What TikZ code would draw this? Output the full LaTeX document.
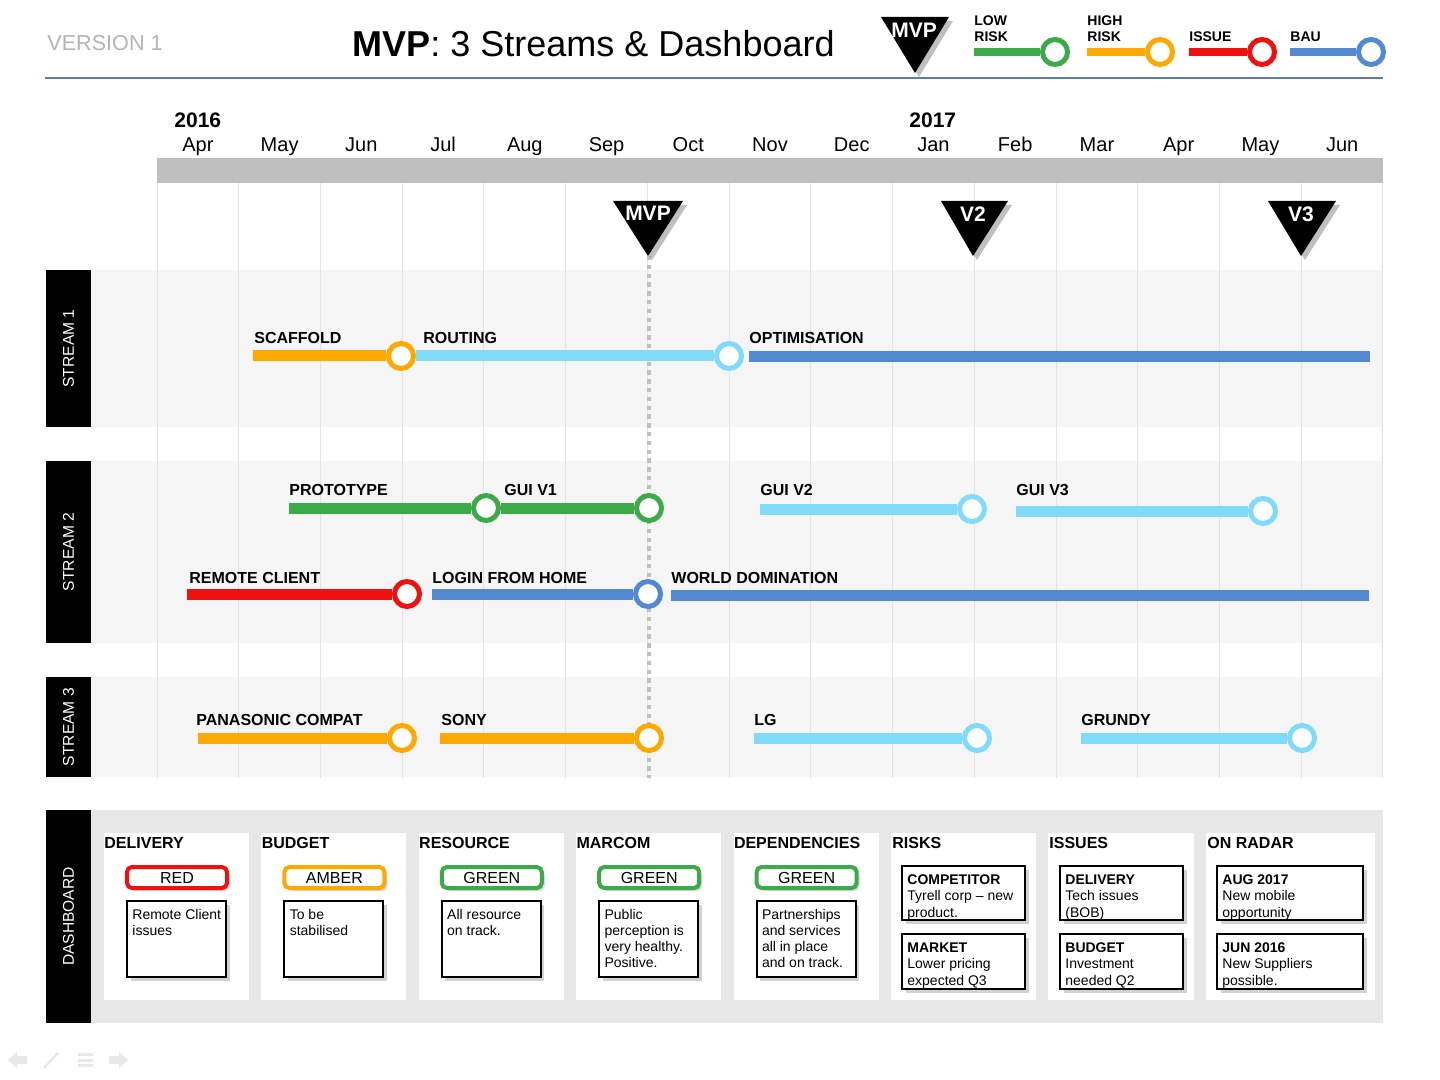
\documentclass[tikz,border=0pt]{standalone}
\usepackage{fontspec}
\setmainfont{Liberation Sans}
\usetikzlibrary{shadows,calc}
\definecolor{cgreen}{HTML}{3DAA4A}
\definecolor{corange}{HTML}{FFA800}
\definecolor{cred}{HTML}{F01010}
\definecolor{cblue}{HTML}{5289D0}
\definecolor{clight}{HTML}{80DAFA}
\definecolor{bandc}{HTML}{F5F5F5}
\definecolor{gridc}{HTML}{E3E3E3}
\definecolor{barc}{HTML}{BFBFBF}
\definecolor{dashbg}{HTML}{E7E7E7}
\definecolor{rulec}{HTML}{5B80A8}
\definecolor{verc}{HTML}{B4B4B4}
\definecolor{iconc}{HTML}{E8E8E8}
\tikzset{
  bar/.style={line width=5.5pt},
  lbar/.style={line width=4pt},
  ms/.style={circle, draw=#1, line width=2.5pt, fill=white, minimum size=12.5pt, inner sep=0pt},
  lbl/.style={font=\bfseries\fontsize{8}{9}\selectfont, anchor=west, inner sep=0pt},
  month/.style={font=\fontsize{10}{11}\selectfont, anchor=base, inner sep=0pt},
  yearlbl/.style={font=\bfseries\fontsize{10.5}{11}\selectfont, anchor=base west, inner sep=0pt},
  legtext/.style={font=\bfseries\fontsize{7}{8}\selectfont, anchor=base west, inner sep=0pt, align=left},
  mtext/.style={font=\bfseries\fontsize{10.5}{11}\selectfont, text=white, inner sep=0pt},
  tri/.style={fill=black},
  trishadow/.style={fill=black, opacity=0.25},
  sidelbl/.style={fill=black},
  sidetext/.style={font=\fontsize{7.8}{9}\selectfont, text=white, rotate=90, inner sep=0pt},
  dtitle/.style={font=\bfseries\fontsize{8}{9}\selectfont, anchor=west, inner sep=0pt},
  status/.style={draw=#1, line width=2pt, rounded corners=2.5pt, fill=white, minimum width=50pt, minimum height=10.5pt, inner sep=0pt, font=\fontsize{8}{9}\selectfont, drop shadow={opacity=0.3, shadow xshift=1.5pt, shadow yshift=-1.5pt}},
  txbox/.style={draw=black, line width=1pt, fill=white, minimum width=49.5pt, minimum height=38pt, inner sep=0pt, drop shadow={opacity=0.35, shadow xshift=1.8pt, shadow yshift=-1.8pt}},
  boxtext/.style={font=\fontsize{7}{8}\selectfont, anchor=north west, align=left, inner sep=0pt},
  rbox/.style={draw=black, line width=1pt, fill=white, minimum width=61.5pt, minimum height=27pt, inner sep=0pt, drop shadow={opacity=0.35, shadow xshift=1.8pt, shadow yshift=-1.8pt}},
  rtext/.style={font=\fontsize{7}{8.25}\selectfont, anchor=north west, align=left, inner sep=0pt},
}
\begin{document}
\begin{tikzpicture}[x=0.5pt,y=-0.5pt]
\useasboundingbox (0,0) rectangle (1440,1080);
\fill[white] (0,0) rectangle (1440,1080);

% ---------- header ----------
\node[font=\fontsize{10.8}{12}\selectfont, text=verc, anchor=base west, inner sep=0pt] (ver) at (47,51) {VERSION 1};
\node[font=\fontsize{18}{20}\selectfont, anchor=base west, inner sep=0pt] (title) at (352,57) {\textbf{MVP}: 3 Streams \& Dashboard};
\coordinate (r0) at (45,78); \coordinate (r1) at (1383,78);
\draw[rulec, line width=1pt] (r0) -- (r1);

% legend
\fill[trishadow] (885,21) -- (953,21) -- (919,77) -- cycle;
\fill[tri] (881,17) -- (949,17) -- (915,73) -- cycle;
\node[mtext] (lgmvp) at (914,30) {MVP};

\node[legtext] (tLow) at (974,42) {LOW\\RISK};
\node[legtext] (tHigh) at (1087,42) {HIGH\\RISK};
\node[legtext] (tIss) at (1189,42) {ISSUE};
\node[legtext] (tBau) at (1290,42) {BAU};
\coordinate (lgG0) at (974,52); \node[ms=cgreen] (lgG1) at (1055,52) {};
\coordinate (lgO0) at (1087,52); \node[ms=corange] (lgO1) at (1160,52) {};
\coordinate (lgR0) at (1189,52); \node[ms=cred] (lgR1) at (1262,52) {};
\coordinate (lgB0) at (1290,52); \node[ms=cblue] (lgB1) at (1371,52) {};
\draw[lbar,cgreen] (lgG0) -- (lgG1);
\draw[lbar,corange] (lgO0) -- (lgO1);
\draw[lbar,cred] (lgR0) -- (lgR1);
\draw[lbar,cblue] (lgB0) -- (lgB1);

% ---------- timeline header ----------
\node[yearlbl] (y2016) at (174,128) {2016};
\node[yearlbl] (y2017) at (909,128) {2017};
\foreach \m [count=\k from 0] in {Apr,May,Jun,Jul,Aug,Sep,Oct,Nov,Dec,Jan,Feb,Mar,Apr,May,Jun}
  \node[month] (mon\k) at (157+81.73*\k+40.9,152) {\m};
\fill[barc] (157,158) rectangle (1383,183);

% ---------- stream bands ----------
\fill[bandc] (91,270) rectangle (1383,427);
\fill[bandc] (91,461) rectangle (1383,643);
\fill[bandc] (91,677) rectangle (1383,777);
\foreach \k in {0,...,15}
  \draw[gridc, line width=0.5pt] (157+81.73*\k,183) -- (157+81.73*\k,778);

\fill[sidelbl] (46,270) rectangle (91,427);
\node[sidetext] (st1) at (68.5,348.5) {STREAM 1};
\fill[sidelbl] (46,461) rectangle (91,643);
\node[sidetext] (st2) at (68.5,552) {STREAM 2};
\fill[sidelbl] (46,677) rectangle (91,777);
\node[sidetext] (st3) at (68.5,727) {STREAM 3};

% ---------- milestones ----------
\coordinate (mvpapex) at (649,256); \coordinate (dotend) at (649,778);
\draw[barc, line width=2pt, dash pattern=on 2.2pt off 2.2pt] (mvpapex) -- (dotend);

\fill[trishadow] (617,205) -- (687,205) -- (652,260) -- cycle;
\fill[tri] (613,201) -- (683,201) -- (648,256) -- cycle;
\node[mtext] (msMVP) at (648,213) {MVP};
\fill[trishadow] (945,205) -- (1012,205) -- (977,260) -- cycle;
\fill[tri] (941,201) -- (1008,201) -- (973,256) -- cycle;
\node[mtext] (msV2) at (973,214) {V2};
\fill[trishadow] (1272,205) -- (1340,205) -- (1305,260) -- cycle;
\fill[tri] (1268,201) -- (1336,201) -- (1301,256) -- cycle;
\node[mtext] (msV3) at (1301,214) {V3};

% ---------- stream 1 ----------
\coordinate (scS) at (253,356);
\node[ms=corange] (scE) at (401,356) {};
\node[ms=clight] (rtE) at (729,356) {};
\coordinate (opS) at (749,357); \coordinate (opE) at (1370,357);
\draw[bar,corange] (scS) -- (scE);
\draw[bar,clight] (scE) -- (rtE);
\draw[bar,cblue] (opS) -- (opE);
\node[lbl] (lSc) at (254,338) {SCAFFOLD};
\node[lbl] (lRt) at (423,338) {ROUTING};
\node[lbl] (lOp) at (749,338) {OPTIMISATION};

% ---------- stream 2 ----------
\coordinate (ptS) at (289,508);
\node[ms=cgreen] (ptE) at (486,508) {};
\node[ms=cgreen] (g1E) at (649,508) {};
\coordinate (g2S) at (760,509); \node[ms=clight] (g2E) at (972,509) {};
\coordinate (g3S) at (1016,511); \node[ms=clight] (g3E) at (1263,511) {};
\coordinate (rcS) at (187,594); \node[ms=cred] (rcE) at (407,594) {};
\coordinate (lgS) at (432,594); \node[ms=cblue] (lgE) at (648,594) {};
\coordinate (wdS) at (671,595); \coordinate (wdE) at (1369,595);
\draw[bar,cgreen] (ptS) -- (ptE);
\draw[bar,cgreen] (ptE) -- (g1E);
\draw[bar,clight] (g2S) -- (g2E);
\draw[bar,clight] (g3S) -- (g3E);
\draw[bar,cred] (rcS) -- (rcE);
\draw[bar,cblue] (lgS) -- (lgE);
\draw[bar,cblue] (wdS) -- (wdE);
\node[lbl] (lPt) at (289,490) {PROTOTYPE};
\node[lbl] (lG1) at (504,490) {GUI V1};
\node[lbl] (lG2) at (760,490) {GUI V2};
\node[lbl] (lG3) at (1016,490) {GUI V3};
\node[lbl] (lRc) at (189,578) {REMOTE CLIENT};
\node[lbl] (lLg) at (432,578) {LOGIN FROM HOME};
\node[lbl] (lWd) at (671,578) {WORLD DOMINATION};

% ---------- stream 3 ----------
\coordinate (paS) at (198,738); \node[ms=corange] (paE) at (402,738) {};
\coordinate (soS) at (440,738); \node[ms=corange] (soE) at (649,738) {};
\coordinate (lgcS) at (754,738); \node[ms=clight] (lgcE) at (977,738) {};
\coordinate (grS) at (1081,738); \node[ms=clight] (grE) at (1302,738) {};
\draw[bar,corange] (paS) -- (paE);
\draw[bar,corange] (soS) -- (soE);
\draw[bar,clight] (lgcS) -- (lgcE);
\draw[bar,clight] (grS) -- (grE);
\node[lbl] (lPa) at (196,720) {PANASONIC COMPAT};
\node[lbl] (lSo) at (441,720) {SONY};
\node[lbl] (lLG) at (754,720) {LG};
\node[lbl] (lGr) at (1081,720) {GRUNDY};

% ---------- dashboard ----------
\fill[dashbg] (91,810) rectangle (1383,1023);
\fill[sidelbl] (46,810) rectangle (91,1023);
\node[sidetext] (stD) at (68.5,916.5) {DASHBOARD};

\foreach \i/\ttl/\st/\col/\txt in {
  0/DELIVERY/RED/cred/{Remote Client\\issues},
  1/BUDGET/AMBER/corange/{To be\\stabilised},
  2/RESOURCE/GREEN/cgreen/{All resource\\on track.},
  3/MARCOM/GREEN/cgreen/{Public\\perception is\\very healthy.\\Positive.},
  4/DEPENDENCIES/GREEN/cgreen/{Partnerships\\and services\\all in place\\and on track.}}
{
  \pgfmathsetmacro{\px}{104+157.4*\i}
  \fill[white] (\px,833) rectangle ++(145,167);
  \node[dtitle] (dt\i) at (\px,843) {\ttl};
  \node[status=\col] (sb\i) at (\px+73,877.5) {\st};
  \node[txbox] (tb\i) at (\px+72.5,939) {};
  \node[boxtext] (tt\i) at ([xshift=3pt,yshift=-4.5pt]tb\i.north west) {\txt};
}

% RISKS
\fill[white] (891,833) rectangle ++(145,167);
\node[dtitle] (dt5) at (892,843) {RISKS};
\node[rbox] (rb1) at (963.5,893) {};
\node[rtext] (rt1) at ([xshift=3pt,yshift=-4.5pt]rb1.north west) {\textbf{COMPETITOR}\\Tyrell corp – new\\product.};
\node[rbox, minimum height=27.5pt] (rb2) at (963.5,961.5) {};
\node[rtext] (rt2) at ([xshift=3pt,yshift=-4.5pt]rb2.north west) {\textbf{MARKET}\\Lower pricing\\expected Q3};

% ISSUES
\fill[white] (1048,833) rectangle ++(146,167);
\node[dtitle] (dt6) at (1049,843) {ISSUES};
\node[rbox] (ib1) at (1121.5,893) {};
\node[rtext] (it1) at ([xshift=3pt,yshift=-4.5pt]ib1.north west) {\textbf{DELIVERY}\\Tech issues\\(BOB)};
\node[rbox, minimum height=27.5pt] (ib2) at (1121.5,961.5) {};
\node[rtext] (it2) at ([xshift=3pt,yshift=-4.5pt]ib2.north west) {\textbf{BUDGET}\\Investment\\needed Q2};

% ON RADAR
\fill[white] (1206,833) rectangle (1375,1000);
\node[dtitle] (dt7) at (1207,843) {ON RADAR};
\node[rbox, minimum width=73pt] (ob1) at (1290,893) {};
\node[rtext] (ot1) at ([xshift=3pt,yshift=-4.5pt]ob1.north west) {\textbf{AUG 2017}\\New mobile\\opportunity};
\node[rbox, minimum width=73pt, minimum height=27.5pt] (ob2) at (1290,961.5) {};
\node[rtext] (ot2) at ([xshift=3pt,yshift=-4.5pt]ob2.north west) {\textbf{JUN 2016}\\New Suppliers\\possible.};

% ---------- faint navigation icons ----------
\fill[iconc] (8,1060) -- (17,1052) -- (17,1056) -- (27,1056) -- (27,1064) -- (17,1064) -- (17,1068) -- cycle;
\draw[iconc, line width=1.2pt] (44,1068) -- (58,1053);
\fill[iconc] (78,1053) rectangle (93,1056);
\fill[iconc] (78,1058.5) rectangle (93,1061.5);
\fill[iconc] (78,1064) rectangle (93,1067);
\fill[iconc] (128,1060) -- (119,1052) -- (119,1056) -- (109,1056) -- (109,1064) -- (119,1064) -- (119,1068) -- cycle;
\end{tikzpicture}
\end{document}
